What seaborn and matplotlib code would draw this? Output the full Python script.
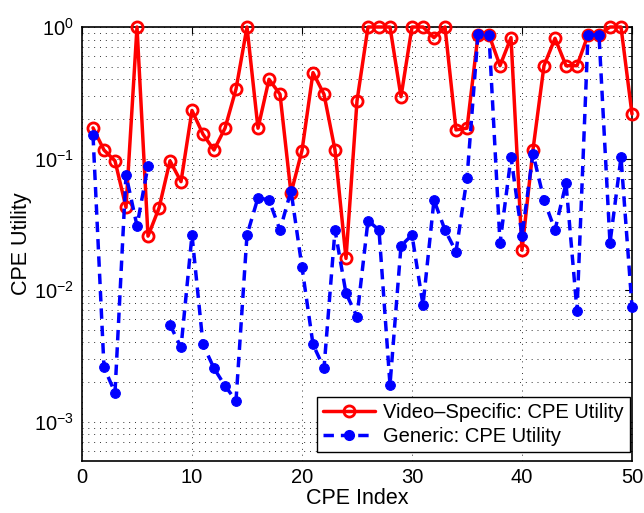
import numpy as np
import pandas as pd
import matplotlib
matplotlib.use("Agg")
import matplotlib.pyplot as plt
from matplotlib.lines import Line2D
from matplotlib.ticker import LogLocator, NullFormatter
import seaborn as sns

cpe_index = list(range(1, 51))
video_specific = [0.171, 0.116, 0.096, 0.0425, 1.0, 0.0257, 0.042, 0.096, 0.0667, 0.232,
                  0.153, 0.116, 0.17, 0.337, 1.0, 0.17, 0.40, 0.308, 0.0544, 0.115,
                  0.45, 0.308, 0.116, 0.0174, 0.274, 1.0, 1.0, 1.0, 0.295, 1.0,
                  1.0, 0.83, 1.0, 0.165, 0.17, 0.87, 0.87, 0.508, 0.83, 0.0201,
                  0.117, 0.508, 0.82, 0.508, 0.508, 0.87, 0.87, 1.0, 1.0, 0.218]
generic = [0.151, 0.00258, 0.00166, 0.075, 0.0308, 0.088, np.nan, 0.00545, 0.00366, 0.0262,
           0.00386, 0.00254, 0.00187, 0.00144, 0.0262, 0.0504, 0.0483, 0.0286, 0.0569, 0.0149,
           0.00386, 0.00254, 0.0286, 0.00944, 0.00627, 0.0337, 0.0286, 0.0019, 0.0217, 0.0262,
           0.00769, 0.0483, 0.0286, 0.0196, 0.0707, 0.88, 0.87, 0.0228, 0.102, 0.0259,
           0.109, 0.0483, 0.0286, 0.0648, 0.00695, 0.87, 0.87, 0.0228, 0.102, 0.00746]
label_vs = "Video\u2013Specific: CPE Utility"
label_gen = "Generic: CPE Utility"

sns.set_style("white")
plt.rcParams["font.family"] = ["Liberation Sans", "DejaVu Sans"]
plt.rcParams["mathtext.fontset"] = "custom"
plt.rcParams["mathtext.rm"] = "Liberation Sans"
plt.rcParams["mathtext.it"] = "Liberation Sans:italic"
for k in ["text.color", "axes.labelcolor", "xtick.color", "ytick.color", "axes.edgecolor"]:
    plt.rcParams[k] = "black"

df_vs = pd.DataFrame({"x": cpe_index, "y": video_specific})
g = np.array(generic, dtype=float)
seg = np.cumsum(np.isnan(g))
df_gen = pd.DataFrame({"x": cpe_index, "y": g, "seg": seg})

fig = plt.figure(figsize=(6.44, 5.13), dpi=100)
ax = fig.add_axes([82/644, 1-461/513, (632-82)/644, (461-27)/513])

sns.lineplot(data=df_vs, x="x", y="y", ax=ax, color="red", lw=2.5,
             marker="o", markersize=8, markerfacecolor="none",
             markeredgecolor="red", markeredgewidth=2, estimator=None,
             sort=False, legend=False, clip_on=False, zorder=3)
sns.lineplot(data=df_gen, x="x", y="y", units="seg", ax=ax, color="blue", lw=2.5,
             marker="o", markersize=7, markerfacecolor="blue",
             markeredgecolor="blue", estimator=None, sort=False, legend=False,
             clip_on=False, zorder=4)
for ln in ax.get_lines()[1:]:
    ln.set_dashes((3, 2))

ax.set_yscale("log")
ax.set_xlim(0, 50)
ax.set_ylim(10**-3.3, 1)
ax.set_xticks([0, 10, 20, 30, 40, 50])
ax.yaxis.set_major_locator(LogLocator(base=10, numticks=10))
ax.yaxis.set_minor_locator(LogLocator(base=10, subs=np.arange(2, 10), numticks=20))
ax.yaxis.set_minor_formatter(NullFormatter())

gkw = dict(color="0.2", linestyle=(0, (1, 5)), linewidth=0.7)
ax.grid(True, which="major", axis="both", **gkw)
ax.grid(True, which="minor", axis="y", **gkw)
ax.set_axisbelow(True)

ax.tick_params(which="both", direction="in", top=True, right=True,
               labelsize=14.5, colors="black")
ax.tick_params(axis="x", pad=5)
ax.tick_params(axis="y", pad=6)
ax.tick_params(which="major", length=5, width=0.8)
ax.tick_params(which="minor", length=3, width=0.6)
for s in ax.spines.values():
    s.set_visible(True)
    s.set_color("black")
    s.set_linewidth(1.2)

ax.set_xlabel("CPE Index", fontsize=15.5, labelpad=1)
ax.set_ylabel("CPE Utility", fontsize=15.5, labelpad=1)

handles = [
    Line2D([], [], color="red", lw=2.5, marker="o", markersize=8,
           markerfacecolor="none", markeredgecolor="red", markeredgewidth=2),
    Line2D([], [], color="blue", lw=2.5, dashes=(3, 2), marker="o",
           markersize=7, markerfacecolor="blue", markeredgecolor="blue"),
]
leg = ax.legend(handles, [label_vs, label_gen], loc="lower right",
                bbox_to_anchor=(630/644, 1-452/513), bbox_transform=fig.transFigure,
                fontsize=14.5, frameon=True, fancybox=False, framealpha=1,
                edgecolor="black", borderpad=0.3, labelspacing=0.25,
                handlelength=2.6, handletextpad=0.4, borderaxespad=0)
leg.get_frame().set_linewidth(1.0)

fig.savefig("out.png", dpi=100)
